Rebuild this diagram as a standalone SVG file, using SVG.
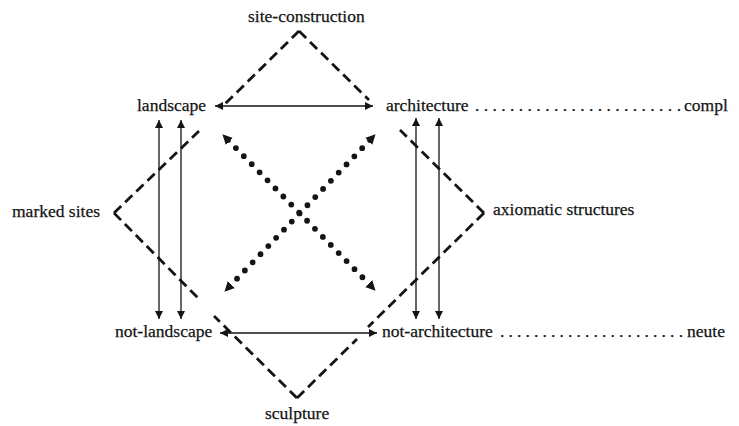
<svg xmlns="http://www.w3.org/2000/svg" width="739" height="426" viewBox="0 0 739 426">
<style>
text{font-family:"Liberation Serif","Times New Roman",serif;font-size:17.5px;fill:#141414;stroke:#141414;stroke-width:0.25}
.dash{stroke:#141414;stroke-width:2.8;fill:none;stroke-dasharray:10 5.5}
.arr{stroke:#141414;stroke-width:1.3;fill:none;marker-start:url(#ah);marker-end:url(#ah)}
.dot{stroke:#141414;stroke-width:5.8;fill:none;stroke-linecap:round;stroke-dasharray:0 11.3;marker-start:url(#dh);marker-end:url(#dh)}
</style>
<defs>
<marker id="ah" viewBox="0 0 10 10" refX="10" refY="5" markerWidth="8" markerHeight="8" markerUnits="userSpaceOnUse" orient="auto-start-reverse">
<path d="M0,0 L10,5 L0,10 z" fill="#141414"/>
</marker>
<marker id="dh" viewBox="0 0 10 10" refX="2" refY="5" markerWidth="10" markerHeight="10" markerUnits="userSpaceOnUse" orient="auto-start-reverse">
<path d="M0,0 L10,5 L0,10 z" fill="#141414"/>
</marker>
</defs>
<rect width="739" height="426" fill="#ffffff"/>
<g id="connectors">
<line class="dash" x1="299" y1="31" x2="225" y2="104"/>
<line class="dash" x1="299" y1="31" x2="369" y2="100"/>
<line class="dash" x1="114" y1="213" x2="199" y2="131"/>
<line class="dash" x1="114" y1="213" x2="199" y2="299"/>
<line class="dash" x1="297" y1="398" x2="214" y2="316"/>
<line class="dash" x1="297" y1="398" x2="357" y2="339"/>
<line class="dash" x1="484" y1="213" x2="400" y2="130"/>
<line class="dash" x1="484" y1="213" x2="368" y2="327"/>
<line class="arr" x1="215" y1="106" x2="373" y2="106"/>
<line class="arr" x1="220" y1="333" x2="377" y2="333"/>
<line class="arr" x1="159" y1="120" x2="159" y2="319"/>
<line class="arr" x1="181" y1="120" x2="181" y2="319"/>
<line class="arr" x1="416" y1="118" x2="416" y2="319"/>
<line class="arr" x1="439" y1="118" x2="439" y2="319"/>
<line class="dot" x1="228" y1="140" x2="370" y2="285"/>
<line class="dot" x1="370" y1="140" x2="230" y2="286"/>
</g>
<g id="site-construction"><text x="248" y="22">site-construction</text></g>
<g id="landscape"><text x="137" y="111">landscape</text></g>
<g id="architecture"><text x="386" y="111">architecture</text>
<text x="475" y="111" textLength="206" lengthAdjust="spacing">........................</text>
<text x="684" y="111">compl</text></g>
<g id="marked-sites"><text x="12" y="217">marked sites</text></g>
<g id="axiomatic-structures"><text x="493" y="215">axiomatic structures</text></g>
<g id="not-landscape"><text x="115" y="337">not-landscape</text></g>
<g id="not-architecture"><text x="382" y="337">not-architecture</text>
<text x="500" y="337" textLength="183" lengthAdjust="spacing">......................</text>
<text x="687" y="337">neute</text></g>
<g id="sculpture"><text x="265" y="419">sculpture</text></g>
</svg>
